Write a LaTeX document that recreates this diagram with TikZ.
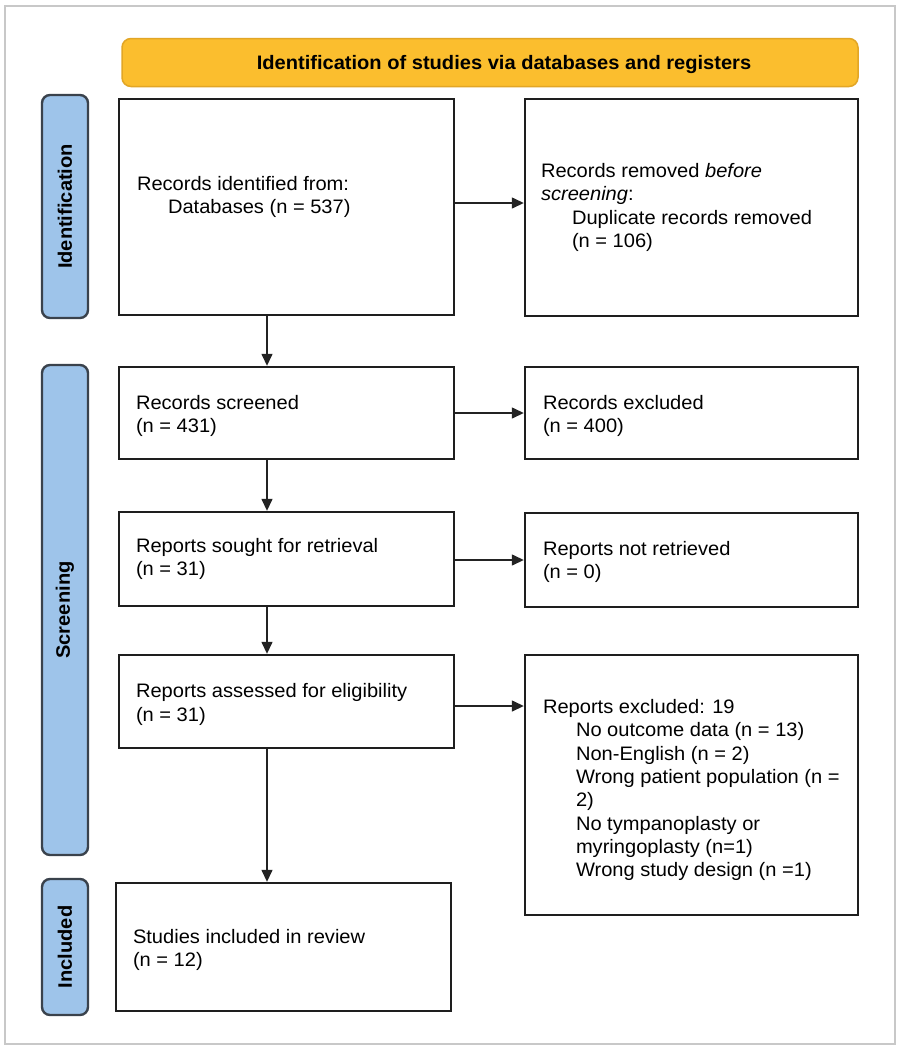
\documentclass[tikz,border=0pt]{standalone}
\usepackage{fontspec}
\setmainfont{Liberation Sans}[FakeStretch=1.03]
\usetikzlibrary{arrows.meta}
\definecolor{boxc}{RGB}{30,30,30}
\definecolor{sidefill}{RGB}{158,196,234}
\definecolor{sidedraw}{RGB}{58,66,76}
\definecolor{headfill}{RGB}{251,190,46}
\definecolor{headdraw}{RGB}{226,166,38}
\definecolor{framec}{RGB}{200,200,200}
\definecolor{arrc}{RGB}{35,35,35}
\begin{document}
\begin{tikzpicture}[x=1pt,y=-1pt,
  box/.style={draw=boxc, line width=2.4pt, fill=white, inner sep=0pt},
  side/.style={draw=sidedraw, fill=sidefill, line width=2.4pt, rounded corners=8pt, inner sep=0pt, minimum width=46pt},
  sidetxt/.style={font=\fontsize{19.5}{23}\selectfont\bfseries, rotate=90, inner sep=0pt},
  txt/.style={font=\fontsize{19.5}{23.3}\selectfont, align=left, anchor=west, inner sep=0pt},
  arr/.style={draw=arrc, line width=1.4pt, -{Triangle[length=12pt,width=11pt]}}]
\useasboundingbox (0,0) rectangle (901,1050);
\fill[white] (0,0) rectangle (901,1050);
\draw[framec, line width=1.5pt] (5,6) rectangle (895,1044);

% header
\node[draw=headdraw, fill=headfill, line width=1.5pt, rounded corners=9pt,
      minimum width=736pt, minimum height=48pt, inner sep=0pt] (head) at (490,62.5) {};
\node[font=\fontsize{19.5}{23}\selectfont\bfseries, inner sep=0pt] (headt) at (504,64)
  {Identification of studies via databases and registers};

% side bars
\node[side, minimum height=223pt] (sid) at (65,206.5) {};
\node[sidetxt] (sidt) at (sid.center) {Identification};
\node[side, minimum height=490pt] (ssc) at (65,610) {};
\node[sidetxt] (ssct) at (ssc.center) {Screening};
\node[side, minimum height=136pt] (sinc) at (65,947) {};
\node[sidetxt] (sinct) at (sinc.center) {Included};

% left column
\node[box, minimum width=335pt, minimum height=216pt] (rid) at (286.5,207) {};
\node[box, minimum width=335pt, minimum height=92pt]  (rsc) at (286.5,413) {};
\node[box, minimum width=335pt, minimum height=94pt]  (rso) at (286.5,559) {};
\node[box, minimum width=335pt, minimum height=93pt]  (ras) at (286.5,701.5) {};
\node[box, minimum width=335pt, minimum height=128pt] (stu) at (283.5,947) {};

% right column
\node[box, minimum width=333pt, minimum height=217pt] (rrm) at (691.5,207.5) {};
\node[box, minimum width=333pt, minimum height=92pt]  (rex) at (691.5,413) {};
\node[box, minimum width=333pt, minimum height=94pt]  (rnr) at (691.5,560) {};
\node[box, minimum width=333pt, minimum height=260pt] (rre) at (691.5,785) {};

% texts
\node[txt] (tid) at ([xshift=19pt,yshift=10pt]rid.west)
  {Records identified from:\\\hspace*{31pt}Databases (n = 537)};
\node[txt] (tsc) at ([xshift=18pt,yshift=-3pt]rsc.west)
  {Records screened\\(n = 431)};
\node[txt] (tso) at ([xshift=18pt]rso.west)
  {Reports sought for retrieval\\(n = 31)};
\node[txt] (tas) at ([xshift=18pt,yshift=-3pt]ras.west)
  {Reports assessed for eligibility\\(n = 31)};
\node[txt] (tst) at ([xshift=18pt,yshift=-3pt]stu.west)
  {Studies included in review\\(n = 12)};

\node[txt] (trm) at ([xshift=17pt]rrm.west)
  {Records removed \textit{before}\\\textit{screening}:\\\hspace*{31pt}Duplicate records removed\\\hspace*{31pt}(n = 106)};
\node[txt] (tex) at ([xshift=19pt,yshift=-3pt]rex.west)
  {Records excluded\\(n = 400)};
\node[txt] (tnr) at ([xshift=19pt,yshift=-2pt]rnr.west)
  {Reports not retrieved\\(n = 0)};
\node[txt] (tre) at ([xshift=19pt,yshift=-5pt]rre.west)
  {Reports excluded: 19\\
   \hspace*{33pt}No outcome data (n = 13)\\
   \hspace*{33pt}Non-English (n = 2)\\
   \hspace*{33pt}Wrong patient population (n =\\
   \hspace*{33pt}2)\\
   \hspace*{33pt}No tympanoplasty or\\
   \hspace*{33pt}myringoplasty (n=1)\\
   \hspace*{33pt}Wrong study design (n =1)};

% connectors
\coordinate (vx) at (267,0);
\draw[arr] (rid.south -| vx) -- (rsc.north -| vx);
\draw[arr] (rsc.south -| vx) -- (rso.north -| vx);
\draw[arr] (rso.south -| vx) -- (ras.north -| vx);
\draw[arr] (ras.south -| vx) -- (stu.north -| vx);

\draw[arr] ([yshift=4pt]rid.east) -- ([yshift=4pt]rid.east -| rrm.west);
\draw[arr] (rsc.east) -- (rsc.east -| rex.west);
\draw[arr] ([yshift=-1pt]rso.east) -- ([yshift=-1pt]rso.east -| rnr.west);
\draw[arr] ([yshift=-4.5pt]ras.east) -- ([yshift=-4.5pt]ras.east -| rre.west);
\end{tikzpicture}
\end{document}
